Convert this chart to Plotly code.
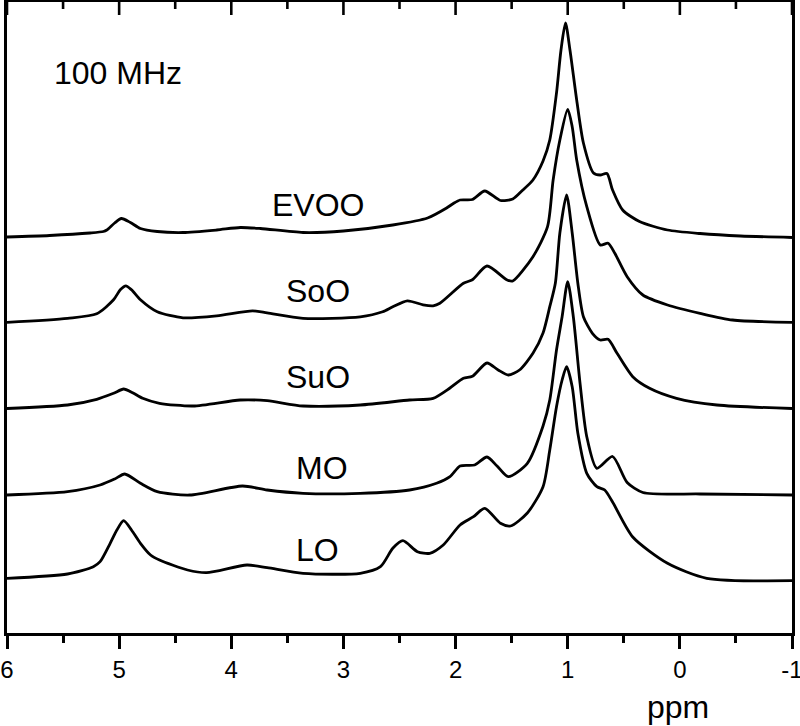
import plotly.graph_objects as go

# ---------------- data ----------------
series_names = ["EVOO", "SoO", "SuO", "MO", "LO"]
stack_offsets = [395.5, 310.7, 224.5, 138.0, 52.3]

evoo_ppm = [6.00, 5.62, 5.26, 5.14, 5.11, 5.04, 4.98, 4.90, 4.81, 4.66, 4.43, 4.13, 3.92, 3.74,
            3.36, 3.00, 2.56, 2.25, 2.08, 2.02, 1.96, 1.85, 1.74, 1.60, 1.49, 1.40, 1.31, 1.22,
            1.16, 1.10, 1.06, 1.02, 0.98, 0.92, 0.86, 0.77, 0.71, 0.65, 0.60, 0.51, 0.36, 0.11,
            -0.18, -0.54, -1.00]
evoo_int = [0.5, 2, 4.5, 6, 7.5, 14.5, 19, 15, 9, 6, 5, 7.5, 10, 9,
            5, 6.5, 12.5, 19.5, 29.5, 34, 37.5, 38, 46.5, 37, 38.5, 47.5, 57.5, 76.5,
            97.5, 144.5, 187.5, 214.5, 187.5, 137.5, 94.5, 64.5, 62.5, 64, 47.5, 27.5, 16, 7.5,
            4, 1.5, 0]

soo_ppm = [6.00, 5.46, 5.20, 5.05, 4.99, 4.94, 4.89, 4.81, 4.66, 4.43, 4.13, 3.81, 3.68, 3.36,
           2.85, 2.65, 2.56, 2.43, 2.29, 2.20, 2.14, 1.93, 1.85, 1.72, 1.54, 1.49, 1.31, 1.18,
           1.13, 1.07, 1.00, 0.96, 0.92, 0.83, 0.71, 0.64, 0.58, 0.47, 0.33, 0.11, -0.18, -0.47,
           -1.00]
soo_int = [0, 4, 8.5, 22.5, 32.5, 36.5, 32.5, 22.5, 10.5, 4.5, 6.5, 11.5, 9.5, 4,
           5.5, 10.5, 15.5, 21.5, 17.5, 16.5, 19, 39, 42.5, 56.3, 42.3, 41.3, 65.6, 95.6,
           142.3, 182.3, 213, 195.6, 162.3, 115.6, 77.3, 79, 69, 45.6, 27.3, 17.3, 9, 2.3,
           0]

suo_ppm = [6.00, 5.46, 5.20, 5.05, 4.96, 4.88, 4.79, 4.64, 4.34, 3.92, 3.68, 3.36, 2.85, 2.41,
           2.20, 2.05, 1.93, 1.85, 1.72, 1.62, 1.53, 1.43, 1.31, 1.22, 1.16, 1.11, 1.07, 1.01,
           0.96, 0.91, 0.86, 0.78, 0.71, 0.64, 0.56, 0.42, 0.27, 0.03, -0.33, -1.00]
suo_int = [0, 3.5, 9.2, 15.2, 19.5, 15.8, 10.2, 5.2, 2.5, 8.5, 7.8, 2.5, 3.5, 8.5,
           10.2, 20.5, 30.2, 32.2, 45.5, 38.5, 33.5, 38.5, 55.2, 75.5, 101.8, 125.5, 175.5, 213.5,
           175.5, 125.5, 91.8, 75.2, 68.5, 69.2, 55.2, 31.8, 20.2, 10.2, 3.5, 0]

mo_ppm = [6.00, 5.46, 5.17, 5.04, 4.95, 4.81, 4.66, 4.37, 3.90, 3.68, 3.36, 2.85, 2.41, 2.17,
          2.05, 1.96, 1.83, 1.72, 1.63, 1.53, 1.36, 1.22, 1.16, 1.10, 1.05, 1.00, 0.95, 0.89,
          0.83, 0.74, 0.60, 0.47, 0.33, -0.18, -1.00]
mo_int = [0, 3.3, 10, 16, 21, 11.7, 3.3, 0, 9, 5, 1.7, 1.7, 5, 11.7,
          18.3, 29, 30, 38, 29, 18.3, 31.7, 69, 95, 145, 178.3, 213.3, 178.3, 111.7,
          58.3, 26.7, 38.5, 12.5, 2.5, 1, 0]

lo_ppm = [6.00, 5.46, 5.23, 5.17, 5.08, 5.02, 4.96, 4.89, 4.81, 4.72, 4.64, 4.39, 4.22, 3.86,
          3.68, 3.36, 2.85, 2.67, 2.56, 2.47, 2.34, 2.23, 2.11, 1.96, 1.84, 1.74, 1.60, 1.51,
          1.36, 1.22, 1.16, 1.10, 1.05, 1.01, 0.96, 0.91, 0.83, 0.74, 0.67, 0.60, 0.42, 0.11,
          -0.24, -1.00]
lo_int = [2.4, 6.7, 14, 19, 37.4, 50.7, 60, 50.7, 37.4, 25.7, 20.7, 10.7, 8, 15.7,
          13, 7.4, 7.4, 14, 32.4, 40, 29, 27.4, 35.7, 55.7, 64, 72.4, 57.4, 54.7,
          67.7, 94, 130.7, 174, 200.7, 214, 194, 147.7, 107.4, 94, 90.7, 78.7, 43.7, 17.4,
          2.4, 0]

tick_values = [6, 5, 4, 3, 2, 1, 0, -1]
tick_labels = ["6", "5", "4", "3", "2", "1", "0", "-1"]
minor_tick_values = [5.5, 4.5, 3.5, 2.5, 1.5, 0.5, -0.5]

# ---------------- figure ----------------
FONT = "Liberation Sans, Arial, sans-serif"
PLOT_H = 631  # plot-area height in px (726 - top 2 - bottom 93)
ppm_sets = [evoo_ppm, soo_ppm, suo_ppm, mo_ppm, lo_ppm]
int_sets = [evoo_int, soo_int, suo_int, mo_int, lo_int]

fig = go.Figure()
for name, xs, ys, off in zip(series_names, ppm_sets, int_sets, stack_offsets):
    fig.add_trace(go.Scatter(
        x=xs, y=[v + off for v in ys], mode="lines", name=name,
        line=dict(color="black", width=2.8, shape="spline", smoothing=0.7),
        showlegend=False, hoverinfo="skip"))

# inward-pointing ticks along the top frame, placed on the x scale
for v in tick_values:
    fig.add_shape(type="line", xref="x", yref="paper", x0=v, x1=v,
                  y0=1, y1=1 - 13 / PLOT_H, line=dict(color="black", width=2.6))
for v in minor_tick_values:
    fig.add_shape(type="line", xref="x", yref="paper", x0=v, x1=v,
                  y0=1, y1=1 - 7 / PLOT_H, line=dict(color="black", width=2.6))

label_pos = [(3.23, 428), (3.23, 342), (3.23, 256), (3.19, 165), (3.23, 83)]
for name, (lx, ly) in zip(series_names, label_pos):
    fig.add_annotation(x=lx, y=ly, xref="x", yref="y", text=name, showarrow=False,
                       font=dict(family=FONT, size=32, color="black"),
                       xanchor="center", yanchor="middle")

fig.add_annotation(x=5.01, y=560, xref="x", yref="y", text="100 MHz", showarrow=False,
                   font=dict(family=FONT, size=32, color="black"),
                   xanchor="center", yanchor="middle")
fig.add_annotation(x=0.855, y=-0.1173, xref="paper", yref="paper", text="ppm",
                   showarrow=False, font=dict(family=FONT, size=32, color="black"),
                   xanchor="center", yanchor="middle")

fig.update_layout(
    width=800, height=726,
    margin=dict(l=7, r=8, t=2, b=93, autoexpand=False),
    paper_bgcolor="white", plot_bgcolor="white",
    xaxis=dict(range=[6, -1], showgrid=False, zeroline=False, showline=True, mirror=True,
               linecolor="black", linewidth=2.6,
               tickmode="array", tickvals=tick_values, ticktext=tick_labels,
               ticklabeloverflow="allow",
               ticks="outside", ticklen=13, tickwidth=2.6, tickcolor="black",
               tickfont=dict(family=FONT, size=24, color="black"),
               minor=dict(ticks="outside", ticklen=7, tickwidth=2.6, tickcolor="black",
                          tickmode="array", tickvals=minor_tick_values)),
    yaxis=dict(range=[0, PLOT_H], showgrid=False, zeroline=False, showline=True, mirror=True,
               linecolor="black", linewidth=2.6, ticks="", showticklabels=False),
)

fig.write_html("out.html", config={"displayModeBar": False},
               post_script="document.body.style.margin='0';document.body.style.overflow='hidden';")
